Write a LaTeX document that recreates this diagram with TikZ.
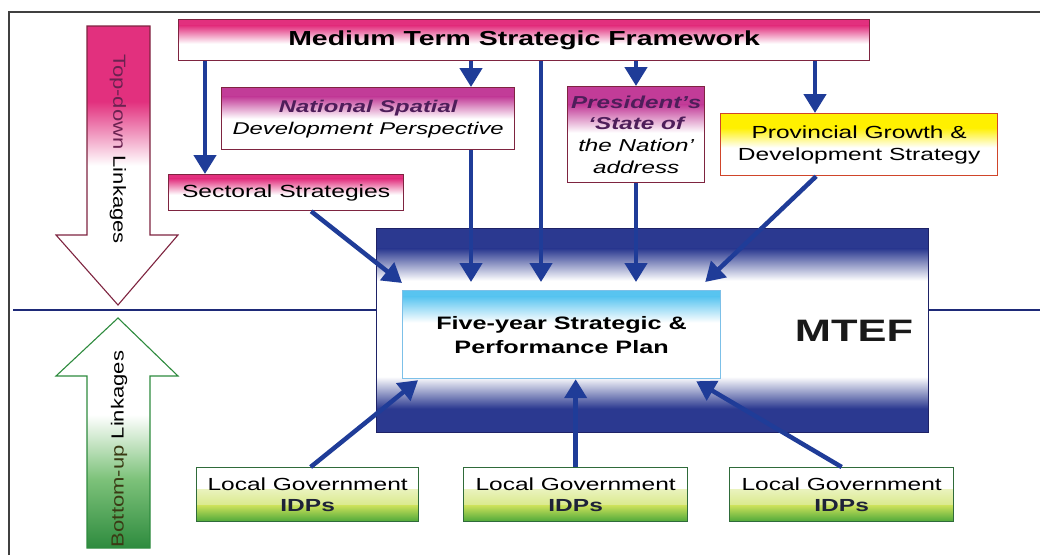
\documentclass[tikz,border=0pt]{standalone}
\usepackage{fontspec}
\usepackage{graphicx}
\setmainfont{Liberation Sans}
\usetikzlibrary{arrows.meta}

\definecolor{linkblue}{HTML}{1F3C98}
\definecolor{mtefblue}{HTML}{2B3990}
\definecolor{mtefpurple}{HTML}{7060B8}
\definecolor{mtefedge}{HTML}{1E2266}
\definecolor{hotpink}{HTML}{E2307E}
\definecolor{magpink}{HTML}{C23C98}
\definecolor{maroon}{HTML}{7E2440}
\definecolor{provyellow}{HTML}{FFF000}
\definecolor{provred}{HTML}{D0452A}
\definecolor{skyblue}{HTML}{58C4F0}
\definecolor{skyedge}{HTML}{7CC0E8}
\definecolor{leafgreen}{HTML}{4DA83A}
\definecolor{limegreen}{HTML}{C9E05A}
\definecolor{boxgreen}{HTML}{2F6B3A}
\definecolor{arrowgreen}{HTML}{2E8B3E}
\definecolor{midgreen}{HTML}{7DC27A}
\definecolor{divider}{HTML}{1E2A78}
\definecolor{plumtext}{HTML}{4E1E5A}
\definecolor{topdowntxt}{HTML}{6A2250}
\definecolor{bottomuptxt}{HTML}{3A3A14}
\definecolor{idptext}{HTML}{1E2238}

% fills of the two big outline arrows (path box spans 25bp..75bp)
\pgfdeclareverticalshading{downfill}{100bp}{color(0bp)=(white); color(50bp)=(white);
  color(61.5bp)=(hotpink); color(100bp)=(hotpink)}
\pgfdeclareverticalshading{upfill}{100bp}{color(0bp)=(arrowgreen); color(25bp)=(arrowgreen);
  color(40bp)=(midgreen); color(54bp)=(white); color(100bp)=(white)}

\newcommand{\stretchtxt}[1]{\scalebox{1.4}[1]{#1}}
\newcommand{\longtxt}[1]{\scalebox{1.26}[1]{#1}}

\tikzset{
  box/.style={draw=maroon, line width=1.3pt, inner sep=0pt, align=center,
    anchor=north west, text=black},
  fade down/.style n args={3}{path picture={
    \fill[#1] (path picture bounding box.north west) rectangle
      ([yshift=-#2pt]path picture bounding box.north east);
    \shade[top color=#1, bottom color=white]
      ([yshift=-#2pt]path picture bounding box.north west) rectangle
      ([yshift=-#3pt]path picture bounding box.north east);}},
  green base/.style={path picture={
    \shade[top color=white, bottom color=limegreen]
      ([yshift=32pt]path picture bounding box.south west) rectangle
      ([yshift=16pt]path picture bounding box.south east);
    \shade[top color=limegreen, bottom color=leafgreen]
      ([yshift=16pt]path picture bounding box.south west) rectangle
      (path picture bounding box.south east);}},
  idpbox/.style={box, draw=boxgreen, minimum height=54pt, green base,
    font=\fontsize{17.5pt}{21pt}\selectfont},
  linkarrow/.style={draw=linkblue, line width=4.5pt,
    -{Triangle[width=22pt,length=19pt]}},
  frame/.style={draw=black!75, line width=1.5pt},
  divline/.style={draw=divider, line width=2.8pt}
}

\begin{document}
\begin{tikzpicture}[x=1pt, y=-1pt]
\useasboundingbox (0,0) rectangle (1040,555);

% outer frame
\draw[frame] (9,555) -- (9,12) -- (1040,12);

% big outline arrows on the left
\path[draw=maroon, line width=1.1pt, shading=downfill]
  (87,26) -- (150,26) -- (150,235) -- (178,235) -- (118,305)
  -- (56,235) -- (87,235) -- cycle;
\node[rotate=-90, font=\fontsize{17.5pt}{20pt}\selectfont] (topdown) at (118,149)
  {\longtxt{\textcolor{topdowntxt}{Top-down} Linkages}};

\path[draw=arrowgreen, line width=1.1pt, shading=upfill]
  (118,318) -- (178,376) -- (150,376) -- (150,548) -- (87,548)
  -- (87,376) -- (56,376) -- cycle;
\node[rotate=90, font=\fontsize{17.5pt}{20pt}\selectfont] (bottomup) at (119,449)
  {\longtxt{\textcolor{bottomuptxt}{Bottom-up} Linkages}};

% top level framework
\node[box, minimum width=691pt, minimum height=41pt, fade down={hotpink}{6}{24},
  font=\fontsize{20.3pt}{24pt}\selectfont\bfseries] (mtsf) at (178,19)
  {\stretchtxt{Medium Term Strategic Framework}};

% second level inputs
\node[box, minimum width=235pt, minimum height=36pt, fade down={hotpink}{4}{20},
  font=\fontsize{17.6pt}{21pt}\selectfont] (sect) at (168,174)
  {\stretchtxt{Sectoral Strategies}};

\node[box, minimum width=293pt, minimum height=62pt, fade down={magpink}{9}{31},
  font=\fontsize{17pt}{22pt}\selectfont\itshape] (nsdp) at (221,87)
  {\stretchtxt{\textcolor{plumtext}{\bfseries National Spatial}}\\
   \stretchtxt{Development Perspective}};

\node[box, minimum width=137pt, minimum height=96pt, fade down={magpink}{18}{46},
  font=\fontsize{17.3pt}{21.7pt}\selectfont\itshape] (pres) at (567,86)
  {\stretchtxt{\textcolor{plumtext}{\bfseries President’s}}\\
   \stretchtxt{\textcolor{plumtext}{\bfseries ‘State of}}\\
   \stretchtxt{the Nation’}\\
   \stretchtxt{address}};

\node[box, draw=provred, minimum width=277pt, minimum height=62pt,
  fade down={provyellow}{14}{34},
  font=\fontsize{17.5pt}{22pt}\selectfont] (prov) at (720,113)
  {\stretchtxt{Provincial Growth \&}\\ \stretchtxt{Development Strategy}};

% expenditure framework with the plan inside
\node[box, draw=mtefedge, line width=1.2pt, minimum width=552pt, minimum height=204pt,
  path picture={
    \fill[mtefblue] (path picture bounding box.north west) rectangle
      ([yshift=-20pt]path picture bounding box.north east);
    \shade[top color=mtefblue, middle color=mtefpurple, bottom color=white]
      ([yshift=-20pt]path picture bounding box.north west) rectangle
      ([yshift=-52pt]path picture bounding box.north east);
    \shade[top color=white, middle color=mtefpurple, bottom color=mtefblue]
      ([yshift=56pt]path picture bounding box.south west) rectangle
      ([yshift=24pt]path picture bounding box.south east);
    \fill[mtefblue] ([yshift=24pt]path picture bounding box.south west) rectangle
      (path picture bounding box.south east);}] (mtef) at (376,228) {};
\node[font=\fontsize{31pt}{36pt}\selectfont\bfseries, text=black!90] (mteflabel)
  at (854,331) {\stretchtxt{MTEF}};

\node[box, draw=skyedge, line width=1.2pt, minimum width=318pt, minimum height=88pt,
  fill=white, fade down={skyblue}{6}{32},
  font=\fontsize{18pt}{24pt}\selectfont\bfseries] (five) at (402,290)
  {\stretchtxt{Five-year Strategic \&}\\ \stretchtxt{Performance Plan}};

% local government plans
\node[idpbox, minimum width=222pt] (lg1) at (196,467)
  {\stretchtxt{Local Government}\\ \stretchtxt{\bfseries\color{idptext}IDPs}};
\node[idpbox, minimum width=224pt] (lg2) at (463,467)
  {\stretchtxt{Local Government}\\ \stretchtxt{\bfseries\color{idptext}IDPs}};
\node[idpbox, minimum width=224pt] (lg3) at (729,467)
  {\stretchtxt{Local Government}\\ \stretchtxt{\bfseries\color{idptext}IDPs}};

% dividing line between the two directions
\coordinate (divL) at (13,310);
\coordinate (divR) at (1040,310);
\draw[divline] (divL) -- (divL -| mtef.west);
\draw[divline] (divR -| mtef.east) -- (divR);

% column positions of the vertical links
\coordinate (colS) at (205,0);
\coordinate (colN) at (471,0);
\coordinate (colM) at (541,0);
\coordinate (colP) at (636,0);
\coordinate (colG) at (815,0);

% top-down links
\draw[linkarrow] (mtsf.south -| colS) -- (sect.north -| colS);
\draw[linkarrow] (mtsf.south -| colN) -- (nsdp.north -| colN);
\draw[linkarrow] (mtsf.south -| colP) -- (pres.north -| colP);
\draw[linkarrow] (mtsf.south -| colG) -- (prov.north -| colG);
\draw[linkarrow, shorten >=8pt] (mtsf.south -| colM) -- (five.north -| colM);
\draw[linkarrow, shorten >=8pt] (nsdp.south -| colN) -- (five.north -| colN);
\draw[linkarrow, shorten >=8pt] (pres.south -| colP) -- (five.north -| colP);
\draw[linkarrow] ([xshift=25pt]sect.south) -- ([yshift=7pt]five.north west);
\draw[linkarrow] ([xshift=-43pt]prov.south) -- ([xshift=-16pt,yshift=8pt]five.north east);

% bottom-up links
\draw[linkarrow] ([xshift=3pt]lg1.north) -- ([xshift=16pt,yshift=-1pt]five.south west);
\draw[linkarrow] (lg2.north) -- (five.south -| lg2.north);
\draw[linkarrow] (lg3.north) -- ([xshift=-25pt,yshift=-2pt]five.south east);
\end{tikzpicture}
\end{document}
